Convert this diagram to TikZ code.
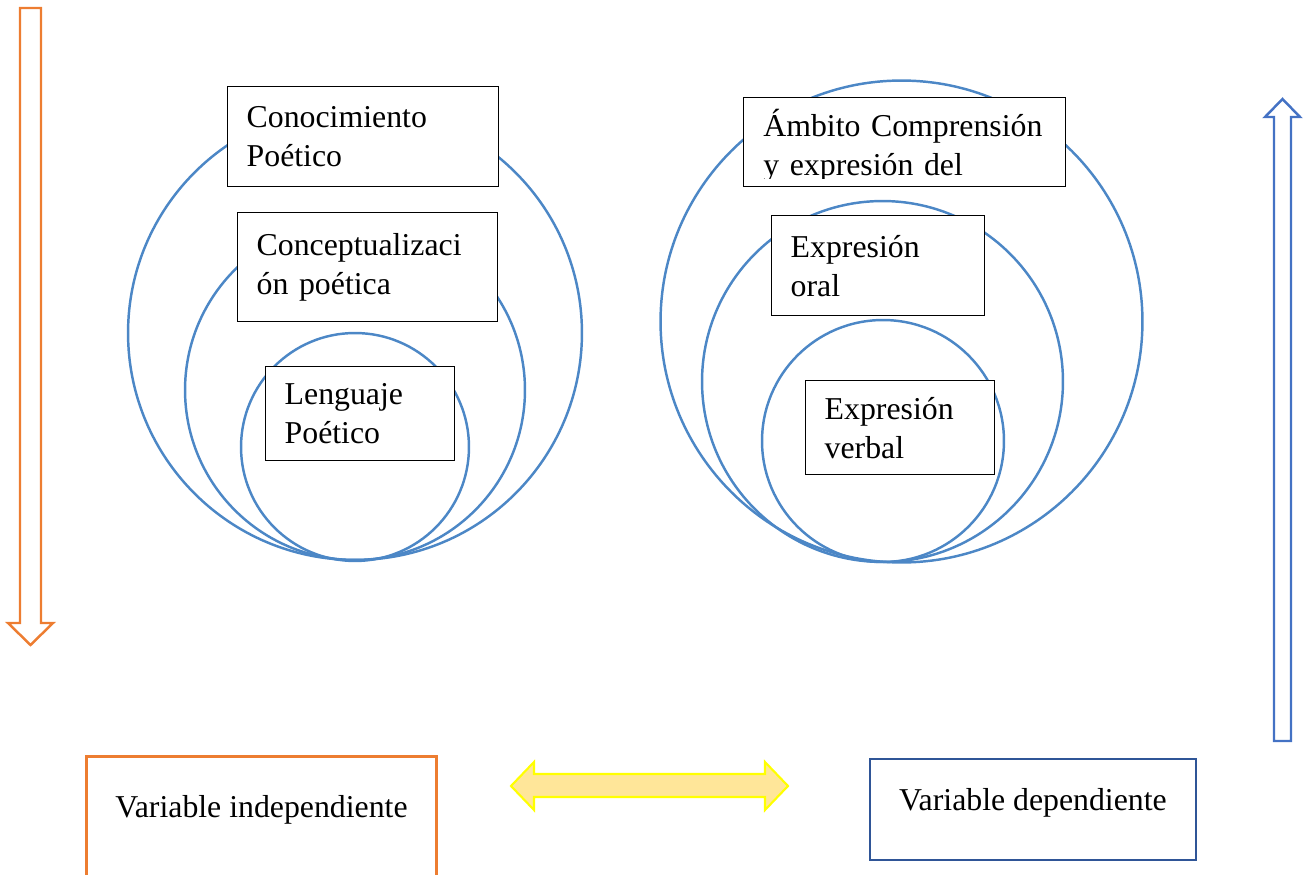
\documentclass[tikz,border=0pt]{standalone}
\usepackage{fontspec}
\setmainfont{Liberation Serif}
\usepackage{tikz}

\definecolor{circazul}{RGB}{76,135,198}
\definecolor{naranja}{RGB}{237,125,49}
\definecolor{flechazul}{RGB}{68,114,196}
\definecolor{azuloscuro}{RGB}{47,85,151}
\definecolor{amarillofondo}{RGB}{255,230,153}
\definecolor{amarilloborde}{RGB}{255,255,0}

\tikzset{
  texto/.style={font=\fontsize{18.1}{22.1}\selectfont},
  circulo/.style={circle, draw=circazul, line width=1.4pt, inner sep=0pt},
  caja/.style={texto, rectangle, draw=black, fill=white, line width=0.8pt,
    anchor=north west, inner xsep=0.38cm, inner ysep=0pt, align=left},
  cajavar/.style={texto, rectangle, fill=white, anchor=base, inner xsep=0pt, inner ysep=0pt}
}

\begin{document}
\begin{tikzpicture}[x=0.02cm, y=-0.02cm]
\useasboundingbox (0,0) rectangle (1313,875);

% circulos de la variable independiente
\node [circulo, minimum size=9.08cm] (circconoc) at (355,333) {};
\node [circulo, minimum size=6.8cm] (circconcep) at (355,390) {};
\node [circulo, minimum size=4.56cm] (circleng) at (355,447) {};

% circulos de la variable dependiente
\node [circulo, minimum size=9.64cm] (circambito) at (901.5,321.5) {};
\node [circulo, minimum size=7.22cm] (circoral) at (882.5,381.5) {};
\node [circulo, minimum size=4.84cm] (circverbal) at (883,441) {};

% cajas de texto
\node [caja, minimum width=5.42cm, minimum height=2cm, text width=4.66cm] (conoc) at (227,86) {Conocimiento\\Poético};
\node [caja, minimum width=5.2cm, minimum height=2.18cm, text width=4.44cm] (concep) at (237,212) {Conceptualizaci\\ón poética};
\node [caja, minimum width=3.78cm, minimum height=1.88cm, text width=3.02cm] (leng) at (265,366) {Lenguaje\\Poético};

\node [caja, minimum width=6.44cm, minimum height=1.78cm] (ambito) at (743,97) {};
\begin{scope}
\clip (ambito.north west) rectangle ([yshift=0.18cm]ambito.south east);
\node [texto, anchor=base west, inner sep=0pt, text width=5.6cm, align=left] (ambitotxt) at ([xshift=0.4cm, yshift=-0.8cm]ambito.north west) {Ámbito Comprensión\\y expresión del};
\end{scope}
\node [caja, minimum width=4.26cm, minimum height=2cm, text width=3.5cm] (oral) at (771,215) {Expresión\\oral};
\node [caja, minimum width=3.78cm, minimum height=1.88cm, text width=3.02cm] (verbal) at (805,380) {Expresión\\verbal};

% flechas
\draw [naranja, line width=1.4pt, fill=white] (20,8) -- (41,8) -- (41,623) -- (53,623) -- (30.5,645) -- (8,623) -- (20,623) -- cycle;
\draw [flechazul, line width=1.4pt, fill=white] (1274,741) -- (1291,741) -- (1291,117) -- (1300,117) -- (1282.5,99) -- (1265,117) -- (1274,117) -- cycle;
\draw [amarilloborde, fill=amarillofondo, line width=1.2pt] (511,786) -- (534,762) -- (534,774) -- (765,774) -- (765,762) -- (788,786) -- (765,810) -- (765,797) -- (534,797) -- (534,810) -- cycle;

% variables
\node [cajavar, draw=naranja, line width=1.7pt, minimum width=7.02cm, text height=1.22cm, text depth=1.4cm] (vindep) at (261.5,817) {Variable independiente};
\node [cajavar, draw=azuloscuro, line width=1.5pt, minimum width=6.52cm, text height=1.02cm, text depth=1cm] (vdep) at (1033,810) {Variable dependiente};
\end{tikzpicture}
\end{document}
